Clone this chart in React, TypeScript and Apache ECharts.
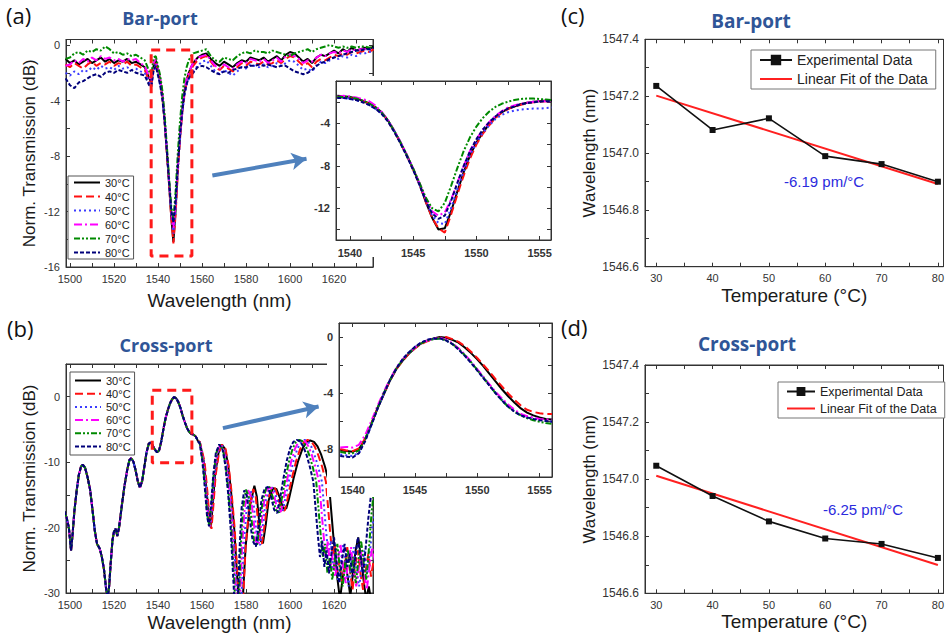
import React, { useEffect, useRef } from 'react';
import * as echarts from 'echarts';

const TEMPS = ['30°C', '40°C', '50°C', '60°C', '70°C', '80°C'];
const COLORS = ['#000000', '#ff1010', '#3c3cff', '#ff00ff', '#008a00', '#00007a'];
const DASHES: any[] = ['solid', [8, 4], [2, 3], [8, 3, 2, 3], [6, 2, 2, 2, 2, 2], [4, 2]];

// ---------- (a) main: Bar-port spectra ----------
const A_X = [
  1498, 1500, 1502, 1504, 1506, 1508, 1510, 1512, 1514, 1516, 1518, 1520, 1522, 1524, 1526, 1528, 1530, 1532, 1534, 1536,
  1537, 1538, 1539, 1540, 1541, 1542, 1543, 1544, 1545, 1546, 1547, 1548, 1549, 1550, 1551, 1552, 1553, 1554, 1555, 1556,
  1558, 1560, 1562, 1564, 1566, 1568, 1570, 1572, 1574, 1576, 1578, 1580, 1582, 1584, 1586, 1588, 1590, 1592, 1594, 1596,
  1598, 1600, 1602, 1604, 1606, 1608, 1610, 1612, 1614, 1616, 1618, 1620, 1622, 1624, 1626, 1628, 1630, 1632, 1634, 1636, 1638,
];
const A_30 = [
  -1.0, -1.3, -1.1, -1.4, -1.2, -1.0, -1.3, -1.1, -0.9, -1.2, -1.0, -1.3, -1.1, -1.2, -1.0, -1.3, -1.2, -1.4, -1.6, -2.4,
  -2.7, -1.5, -1.1, -1.8, -2.5, -3.6, -5.4, -7.6, -9.9, -12.3, -14.2, -11.9, -8.9, -6.5, -4.7, -3.4, -2.5, -2.0, -1.6, -1.3,
  -0.9, -0.7, -0.6, -1.0, -1.3, -1.5, -1.2, -1.4, -1.6, -1.3, -1.1, -1.2, -0.9, -1.0, -1.1, -0.9, -1.2, -1.0, -0.8, -1.1,
  -0.7, -0.5, -0.6, -0.9, -1.2, -1.0, -1.3, -0.9, -0.7, -0.8, -0.6, -0.4, -0.6, -0.3, -0.5, -0.2, -0.4, -0.3, -0.2, -0.3, -0.1,
];
const A_40 = [
  -1.4, -1.6, -1.3, -1.5, -1.7, -1.4, -1.2, -1.5, -1.3, -1.4, -1.2, -1.5, -1.3, -1.4, -1.2, -1.5, -1.4, -1.6, -1.8, -2.6,
  -2.8, -1.7, -1.3, -2.0, -2.7, -3.8, -5.5, -7.7, -10.0, -12.4, -14.3, -12.2, -9.2, -6.8, -4.9, -3.6, -2.7, -2.2, -1.8, -1.5,
  -1.1, -0.9, -0.8, -1.2, -1.6, -1.8, -1.5, -1.7, -1.9, -1.6, -1.3, -1.5, -1.2, -1.3, -1.4, -1.2, -1.4, -1.3, -1.1, -1.3,
  -1.0, -0.8, -0.9, -1.2, -1.5, -1.3, -1.6, -1.2, -1.0, -1.1, -0.9, -0.7, -0.8, -0.6, -0.7, -0.5, -0.6, -0.5, -0.4, -0.5, -0.3,
];
const A_50 = [
  -2.0, -2.2, -1.9, -2.1, -1.8, -1.9, -1.6, -1.8, -1.5, -1.7, -1.6, -1.8, -1.5, -1.7, -1.6, -1.8, -1.7, -1.9, -2.0, -2.7,
  -2.9, -1.8, -1.4, -2.1, -2.8, -3.8, -5.4, -7.5, -9.8, -12.0, -13.6, -11.9, -9.1, -6.8, -5.0, -3.7, -2.9, -2.4, -2.1, -1.9,
  -1.5, -1.2, -1.1, -1.5, -1.9, -2.1, -1.8, -2.0, -2.2, -1.9, -1.6, -1.7, -1.4, -1.5, -1.6, -1.4, -1.6, -1.5, -1.3, -1.5,
  -1.3, -1.1, -1.2, -1.5, -1.8, -1.7, -1.9, -1.5, -1.2, -1.3, -1.1, -0.9, -1.0, -0.8, -0.9, -0.7, -0.8, -0.6, -0.6, -0.5, -0.4,
];
const A_60 = [
  -1.5, -1.4, -1.1, -1.3, -1.0, -1.2, -0.9, -1.1, -0.8, -1.0, -0.9, -1.1, -1.0, -1.2, -1.0, -1.1, -1.0, -1.3, -1.5, -2.3,
  -2.6, -1.3, -1.0, -1.7, -2.4, -3.5, -5.3, -7.5, -9.8, -11.9, -13.2, -11.4, -8.7, -6.4, -4.6, -3.3, -2.5, -2.0, -1.6, -1.3,
  -0.9, -0.8, -0.7, -1.1, -1.5, -1.7, -1.4, -1.6, -1.7, -1.4, -1.2, -1.3, -1.0, -1.1, -1.2, -1.0, -1.3, -1.1, -0.9, -1.2,
  -0.8, -0.7, -0.8, -1.0, -1.3, -1.1, -1.2, -0.9, -0.7, -0.8, -0.6, -0.5, -0.6, -0.4, -0.5, -0.3, -0.4, -0.3, -0.3, -0.3, -0.2,
];
const A_70 = [
  -1.0, -0.9, -0.6, -0.5, -0.7, -0.4, -0.5, -0.3, -0.4, -0.1, -0.3, -0.6, -0.5, -0.7, -0.6, -0.8, -0.7, -0.9, -1.1, -1.9,
  -2.2, -0.9, -0.8, -1.5, -2.2, -3.3, -5.0, -7.2, -9.5, -11.6, -12.6, -10.6, -7.8, -5.5, -3.7, -2.4, -1.6, -1.1, -0.8, -0.6,
  -0.5, -0.4, -0.3, -0.8, -1.1, -1.2, -0.9, -1.0, -1.1, -0.8, -0.6, -0.5, -0.6, -0.4, -0.5, -0.5, -0.6, -0.4, -0.5, -0.6,
  -0.7, -0.8, -0.6, -0.5, -0.4, -0.3, -0.5, -0.3, -0.2, -0.1, 0.0, -0.1, -0.2, -0.1, -0.2, -0.1, -0.2, -0.1, -0.1, -0.2, -0.1,
];
const A_80 = [
  -2.4, -2.9, -3.1, -2.7, -2.6, -2.4, -2.2, -2.1, -2.3, -2.0, -1.9, -2.0, -1.8, -1.9, -2.0, -1.8, -2.0, -2.1, -2.2, -2.9,
  -3.0, -1.8, -1.5, -2.2, -2.9, -3.9, -5.5, -7.6, -9.8, -11.9, -12.8, -11.2, -8.7, -6.5, -4.8, -3.5, -2.8, -2.4, -2.2, -2.0,
  -1.6, -1.5, -1.6, -1.8, -2.0, -2.1, -1.9, -2.0, -1.8, -1.7, -1.6, -1.6, -1.5, -1.5, -1.4, -1.5, -1.4, -1.5, -1.6, -1.5,
  -1.5, -1.7, -1.9, -2.0, -2.1, -2.0, -1.8, -1.5, -1.3, -1.2, -1.0, -0.9, -0.8, -0.7, -0.6, -0.5, -0.4, -0.4, -0.3, -0.3, -0.2,
];

// ---------- insets: shared wavelength grid ----------
const INSET_X = [
  1539, 1539.5, 1540, 1540.5, 1541, 1541.5, 1542, 1542.5, 1543, 1543.5, 1544, 1544.5, 1545, 1545.5, 1546, 1546.5, 1547, 1547.5,
  1548, 1548.5, 1549, 1549.5, 1550, 1550.5, 1551, 1551.5, 1552, 1552.5, 1553, 1553.5, 1554, 1554.5, 1555, 1555.5, 1556,
];
const IA_30 = [-1.4, -1.45, -1.5, -1.65, -1.85, -2.1, -2.45, -2.95, -3.7, -4.7, -5.8, -7.0, -8.3, -9.7, -11.4, -12.9, -14.0, -13.9, -12.3, -10.4, -8.6, -7.0, -5.8, -4.9, -4.1, -3.4, -2.95, -2.6, -2.4, -2.2, -2.05, -1.95, -1.9, -1.85, -1.85];
const IA_40 = [-1.5, -1.55, -1.6, -1.7, -1.9, -2.15, -2.5, -3.0, -3.75, -4.75, -5.85, -7.05, -8.35, -9.75, -11.4, -12.9, -13.9, -14.3, -12.6, -10.7, -8.9, -7.3, -6.0, -5.0, -4.2, -3.5, -3.0, -2.65, -2.4, -2.25, -2.1, -2.0, -1.95, -1.9, -1.9];
const IA_50 = [-1.6, -1.6, -1.65, -1.8, -2.0, -2.25, -2.6, -3.05, -3.75, -4.7, -5.8, -7.0, -8.3, -9.7, -11.3, -12.7, -13.4, -13.5, -12.0, -10.2, -8.5, -7.0, -5.8, -4.9, -4.2, -3.6, -3.2, -2.95, -2.8, -2.7, -2.65, -2.6, -2.6, -2.55, -2.5];
const IA_60 = [-1.5, -1.4, -1.45, -1.55, -1.7, -1.9, -2.3, -2.9, -3.65, -4.65, -5.75, -6.95, -8.25, -9.6, -11.1, -12.3, -12.7, -12.4, -11.2, -9.6, -8.0, -6.6, -5.5, -4.6, -3.9, -3.3, -2.85, -2.5, -2.3, -2.15, -2.05, -1.95, -1.9, -1.9, -1.9];
const IA_70 = [-1.5, -1.5, -1.55, -1.65, -1.85, -2.1, -2.45, -2.95, -3.7, -4.7, -5.8, -7.0, -8.25, -9.6, -11.0, -12.0, -12.3, -11.5, -9.9, -8.2, -6.6, -5.3, -4.3, -3.5, -2.9, -2.45, -2.15, -1.95, -1.8, -1.7, -1.65, -1.65, -1.7, -1.75, -1.8];
const IA_80 = [-1.6, -1.6, -1.7, -1.8, -2.0, -2.25, -2.6, -3.1, -3.8, -4.8, -5.9, -7.1, -8.4, -9.8, -11.3, -12.5, -13.0, -12.7, -11.3, -9.6, -8.0, -6.6, -5.5, -4.6, -3.9, -3.35, -2.9, -2.6, -2.4, -2.2, -2.1, -2.0, -1.95, -1.9, -1.9];

const IB_30 = [-8.1, -8.15, -8.2, -8.0, -7.3, -6.2, -5.1, -4.1, -3.1, -2.3, -1.7, -1.2, -0.8, -0.45, -0.25, -0.1, 0.0, -0.05, -0.2, -0.4, -0.75, -1.15, -1.6, -2.1, -2.65, -3.2, -3.75, -4.25, -4.7, -5.1, -5.4, -5.6, -5.75, -5.85, -5.9];
const IB_40 = [-8.0, -8.1, -8.15, -7.95, -7.25, -6.15, -5.05, -4.05, -3.1, -2.3, -1.7, -1.2, -0.8, -0.5, -0.3, -0.15, -0.05, 0.0, -0.15, -0.35, -0.65, -1.05, -1.5, -2.0, -2.5, -3.05, -3.55, -4.05, -4.5, -4.9, -5.2, -5.35, -5.45, -5.5, -5.5];
const IB_50 = [-8.4, -8.45, -8.5, -8.25, -7.4, -6.3, -5.1, -4.05, -3.05, -2.25, -1.6, -1.1, -0.7, -0.4, -0.2, -0.15, -0.1, -0.25, -0.5, -0.85, -1.3, -1.8, -2.35, -2.9, -3.45, -4.0, -4.5, -4.95, -5.3, -5.55, -5.7, -5.8, -5.9, -6.0, -6.05];
const IB_60 = [-7.9, -7.85, -7.9, -7.7, -7.0, -6.0, -4.9, -3.9, -3.0, -2.2, -1.6, -1.15, -0.75, -0.45, -0.25, -0.1, -0.05, -0.2, -0.45, -0.8, -1.25, -1.75, -2.3, -2.85, -3.4, -3.95, -4.4, -4.85, -5.2, -5.5, -5.65, -5.75, -5.85, -5.9, -5.9];
const IB_70 = [-8.2, -8.3, -8.3, -8.1, -7.3, -6.2, -5.05, -4.0, -3.05, -2.25, -1.65, -1.15, -0.75, -0.45, -0.25, -0.15, -0.1, -0.25, -0.5, -0.85, -1.3, -1.8, -2.35, -2.9, -3.5, -4.05, -4.55, -5.0, -5.35, -5.6, -5.8, -5.95, -6.05, -6.15, -6.2];
const IB_80 = [-8.5, -8.55, -8.6, -8.3, -7.45, -6.3, -5.1, -4.05, -3.05, -2.25, -1.6, -1.1, -0.7, -0.4, -0.2, -0.1, -0.1, -0.25, -0.5, -0.9, -1.35, -1.85, -2.4, -2.95, -3.5, -4.05, -4.55, -5.0, -5.35, -5.6, -5.75, -5.85, -5.95, -6.0, -6.05];

// ---------- (b) main: Cross-port spectra, [wavelength, dB] ----------
const B_HEAD = [
  [1497.5, -17.5], [1498.5, -18.5], [1499.5, -20], [1500.5, -23.5], [1501.2, -21], [1502, -17.5], [1503, -14.5], [1504, -12],
  [1505, -10.7], [1505.8, -10.4], [1506.8, -10.8], [1508, -12.3], [1509.2, -14.3], [1510.3, -17.5], [1511.3, -20.5], [1512.3, -22.5],
  [1513.5, -23.2], [1514.5, -24.5], [1515.5, -26.5], [1516.3, -29], [1517, -31], [1517.8, -29], [1518.5, -25.5], [1519.3, -22],
  [1520, -20.6], [1520.8, -20.2], [1521.5, -21.3], [1522.3, -20], [1523.5, -16.8], [1524.7, -13.8], [1526, -11.2], [1527, -9.7],
  [1527.8, -9.4], [1528.8, -9.9], [1529.8, -11.2], [1530.8, -12.9], [1531.8, -13.9], [1532.8, -12.9], [1533.8, -10.7], [1534.8, -8.5],
  [1535.8, -7.2], [1536.6, -7.0], [1537.5, -7.4], [1538.6, -8.1], [1539.6, -8.5], [1540.5, -8.2], [1541.5, -6.8], [1542.5, -4.9],
  [1543.5, -3.2], [1544.5, -2.0], [1545.5, -1.0], [1546.5, -0.35], [1547.3, -0.05], [1548.2, -0.2], [1549.2, -0.8], [1550.2, -1.7],
  [1551.2, -2.9], [1552.2, -3.9], [1553.2, -4.8], [1554.2, -5.4], [1555.2, -5.7], [1556.2, -5.8], [1557.2, -6.1], [1558.2, -6.8],
];
const B_TAIL_30 = [
  [1559, -6.9], [1560.9, -10], [1562, -14], [1563.1, -18.3], [1564, -20], [1564.9, -16.5], [1565.9, -12], [1567.5, -8.6], [1569, -7.3],
  [1570.5, -8], [1571.9, -10.5], [1573.2, -14.5], [1574.6, -20], [1575.8, -26.5], [1577, -33], [1578.2, -33], [1579.8, -23], [1581.6, -17],
  [1583.8, -13.6], [1584.9, -15.2], [1585.8, -18.5], [1586.6, -22], [1587.7, -22.4], [1589, -19.5], [1590.3, -15.8], [1592.2, -14],
  [1593.8, -14.1], [1595.2, -15.3], [1596.8, -17], [1598.3, -17.1], [1599.6, -15.5], [1601.6, -12.5], [1603.7, -9.8], [1605.7, -7.9],
  [1607.5, -6.9], [1609.2, -6.7], [1610.9, -6.9], [1612.5, -7.6], [1614.2, -8.9], [1615.9, -10.7], [1617.6, -13], [1618.6, -17],
  [1619.6, -21], [1620.6, -24.5], [1621.6, -28], [1622.7, -31], [1623.8, -28], [1625, -25], [1626.2, -27.5], [1627.4, -30.5],
  [1628.6, -27], [1629.8, -23.5], [1631, -21.5], [1632.2, -24.5], [1633.4, -28], [1634.6, -31], [1635.8, -29], [1637, -31.5], [1638.4, -30],
];
const B_TAIL_40 = [
  [1559, -6.9], [1561.2, -10], [1562.3, -14], [1563.4, -18.3], [1564.3, -20.2], [1565.2, -16.5], [1566.2, -12], [1567.7, -8.6], [1569.2, -7.3],
  [1570.7, -8], [1572.1, -10.5], [1573.4, -14.5], [1574.8, -20], [1576, -26.5], [1577.2, -33], [1578.4, -33], [1579.8, -23], [1581.4, -17],
  [1583.3, -14.1], [1584.4, -15.2], [1585.3, -18.5], [1586.1, -22], [1587.2, -22.5], [1588.5, -19.5], [1589.8, -15.8], [1591.6, -14],
  [1593.2, -14], [1594.6, -15.3], [1596.1, -17.3], [1597.6, -17.4], [1598.9, -15.5], [1600.8, -12.5], [1602.8, -9.8], [1604.7, -7.9],
  [1606.4, -6.9], [1608, -6.6], [1609.6, -6.8], [1611.2, -7.6], [1612.8, -8.9], [1614.6, -10.7], [1616.3, -13], [1617.3, -17],
  [1618.3, -21], [1619.3, -24.5], [1620.3, -22.5], [1621.4, -27], [1622.5, -25], [1623.6, -28.5], [1624.8, -26], [1626, -23],
  [1627.2, -26.5], [1628.4, -29.5], [1629.6, -26], [1630.8, -23.5], [1632, -27], [1633.2, -29.5], [1634.4, -26.5], [1635.6, -24], [1636.8, -27.5], [1638, -25],
];
const B_TAIL_50 = [
  [1559, -7.0], [1560.8, -10], [1561.9, -14], [1562.9, -18.3], [1563.8, -19.8], [1564.7, -16.5], [1565.7, -12], [1567.1, -8.6], [1568.6, -7.3],
  [1570.1, -8], [1571.5, -10.5], [1572.8, -14.5], [1574.1, -20], [1575.3, -26.5], [1576.4, -33], [1577.6, -33], [1578.9, -23], [1580.3, -17],
  [1582, -14.3], [1583.1, -15.2], [1584.1, -18.5], [1585.1, -22], [1586.4, -22.7], [1587.7, -19.5], [1589, -15.8], [1590.7, -14],
  [1592.3, -13.9], [1593.7, -15.3], [1595.1, -17.3], [1596.6, -17.6], [1597.9, -15.5], [1599.7, -12.5], [1601.6, -9.8], [1603.4, -7.9],
  [1605.1, -6.9], [1606.6, -6.6], [1608.1, -6.8], [1609.6, -7.6], [1611.1, -8.9], [1612.8, -10.7], [1614.5, -13], [1615.5, -17],
  [1616.5, -21], [1617.5, -24.5], [1618.5, -22], [1619.6, -26.5], [1620.7, -24], [1621.8, -28], [1623, -25.5], [1624.2, -22.5],
  [1625.4, -26], [1626.6, -29], [1627.8, -25.5], [1629, -23], [1630.2, -26.5], [1631.4, -29], [1632.6, -26], [1633.8, -23.5], [1635, -27], [1636.2, -24], [1637.4, -20], [1638.6, -17.5],
];
const B_TAIL_60 = [
  [1559, -7.0], [1560.6, -10], [1561.7, -14], [1562.7, -18.3], [1563.6, -19.8], [1564.5, -16.5], [1565.5, -12], [1566.8, -8.6], [1568.3, -7.3],
  [1569.8, -8], [1571.1, -10.5], [1572.4, -14.5], [1573.7, -20], [1574.8, -26.5], [1575.9, -33], [1577.1, -33], [1578.2, -23], [1579.4, -17],
  [1581, -14.3], [1582.2, -15.2], [1583.3, -18.5], [1584.4, -22], [1585.7, -22.7], [1587, -19.5], [1588.3, -15.8], [1590, -14],
  [1591.5, -13.9], [1592.9, -15.3], [1594.3, -17.3], [1595.8, -17.6], [1597.1, -15.5], [1598.8, -12.5], [1600.6, -9.8], [1602.3, -7.9],
  [1603.9, -6.9], [1605.4, -6.6], [1606.9, -6.8], [1608.4, -7.6], [1609.9, -8.9], [1611.5, -10.7], [1613.2, -13], [1614.2, -17],
  [1615.2, -21], [1616.2, -24.5], [1617.2, -22], [1618.3, -26.5], [1619.4, -24], [1620.5, -27.5], [1621.7, -25], [1622.9, -22.5],
  [1624.1, -26], [1625.3, -28.5], [1626.5, -25], [1627.7, -23], [1628.9, -26.5], [1630.1, -29], [1631.3, -26], [1632.5, -23.5], [1633.7, -27], [1634.9, -29.5], [1636.1, -26], [1637.3, -23], [1638.5, -25],
];
const B_TAIL_70 = [
  [1559, -7.1], [1560.4, -10], [1561.5, -14], [1562.5, -18.3], [1563.4, -19.8], [1564.3, -16.5], [1565.3, -12], [1566.5, -8.6], [1568, -7.3],
  [1569.5, -8], [1570.8, -10.5], [1572, -14.5], [1573.3, -20], [1574.4, -26.5], [1575.4, -33], [1576.6, -33], [1577.6, -23], [1578.6, -17],
  [1580, -14.2], [1581.2, -15.2], [1582.4, -18.5], [1583.6, -22], [1585, -22.8], [1586.3, -19.5], [1587.6, -15.8], [1589.2, -14],
  [1590.7, -13.8], [1592.1, -15.3], [1593.5, -17.3], [1595, -17.7], [1596.3, -15.5], [1597.9, -12.5], [1599.6, -9.8], [1601.2, -7.9],
  [1602.7, -6.9], [1604.2, -6.6], [1605.7, -6.8], [1607.2, -7.6], [1608.7, -8.9], [1610.3, -10.7], [1611.9, -13], [1612.9, -17],
  [1613.9, -21], [1614.9, -24.5], [1615.9, -22.5], [1617, -27], [1618.1, -24.5], [1619.2, -28], [1620.3, -25], [1621.5, -22.5],
  [1622.7, -26.5], [1623.9, -29], [1625.1, -25.5], [1626.3, -23.5], [1627.5, -27], [1628.7, -24.5], [1629.9, -28.5], [1631.1, -25], [1632.3, -22], [1633.5, -25.5], [1634.7, -28], [1635.9, -23], [1637.1, -17.5], [1638.3, -14],
];
const B_TAIL_80 = [
  [1559, -7.2], [1560.2, -10], [1561.3, -14], [1562.3, -18.3], [1563.2, -19.8], [1564.1, -16.5], [1565.1, -12], [1566.3, -8.6], [1567.8, -7.3],
  [1569.3, -8], [1570.6, -10.5], [1571.8, -14.5], [1573, -20], [1574, -26.5], [1575, -33], [1576.2, -33], [1577.1, -23], [1578, -17],
  [1579.2, -14.3], [1580.4, -15.2], [1581.6, -18.5], [1583, -22], [1584.5, -22.9], [1585.8, -19.5], [1587, -15.8], [1588.5, -14],
  [1590, -13.8], [1591.4, -15.3], [1592.8, -17.3], [1594.2, -17.8], [1595.5, -15.5], [1597, -12.5], [1598.5, -9.8], [1600, -7.9],
  [1601.5, -6.9], [1603, -6.6], [1604.5, -6.8], [1606, -7.6], [1607.5, -8.9], [1609, -10.7], [1610.6, -13], [1611.6, -17],
  [1612.6, -21], [1613.6, -24.5], [1614.6, -22], [1615.6, -26], [1616.6, -23.5], [1617.7, -27], [1618.8, -24], [1620, -21.5],
  [1621.2, -25.5], [1622.4, -28.5], [1623.6, -25], [1624.8, -22.5], [1626, -26], [1627.2, -24], [1628.4, -27.5], [1629.6, -25], [1630.8, -21.5], [1632, -24.5], [1633.2, -27], [1634.4, -23], [1635.6, -18.5], [1636.8, -15], [1638, -13],
];

// zoom boxes and arrows (data coordinates)
const BOX_A = [[1536.9, -0.36], [1555.4, -0.36], [1555.4, -15.2], [1536.9, -15.2], [1536.9, -0.36]];
const BOX_B = [[1537.4, 1.0], [1555.4, 1.0], [1555.4, -10.1], [1537.4, -10.1], [1537.4, 1.0]];
const ARROW_A = [[1564.7, -9.4], [1607.5, -8.2]];
const ARROW_B = [[1569.5, -4.8], [1613.0, -1.5]];

// ---------- (c), (d) ----------
const TEMP = [30, 40, 50, 60, 70, 80];
const C_EXP = [1547.236, 1547.081, 1547.122, 1546.989, 1546.961, 1546.899];
const C_FIT = [[30, 1547.202], [80, 1546.891]];
const D_EXP = [1547.047, 1546.941, 1546.852, 1546.792, 1546.773, 1546.724];
const D_FIT = [[30, 1547.012], [80, 1546.699]];

const A_SERIES = [A_30, A_40, A_50, A_60, A_70, A_80];
const IA_SERIES = [IA_30, IA_40, IA_50, IA_60, IA_70, IA_80];
const IB_SERIES = [IB_30, IB_40, IB_50, IB_60, IB_70, IB_80];
const B_TAILS = [B_TAIL_30, B_TAIL_40, B_TAIL_50, B_TAIL_60, B_TAIL_70, B_TAIL_80];

const SANS = 'Liberation Sans, Arial, sans-serif';
const AX = '#333';

function pairs(xs: number[], ys: number[]) {
  return xs.map((x, i) => [x, ys[i]]);
}

function axis(o: any) {
  const {
    grid, min, max, labels, ticks, name, nameGap, position, fontSize = 11, bold = false, z = 0, nameSize = 18, fmt, margin = 6,
    mirror = false,
  } = o;
  return {
    type: 'value', gridIndex: grid, min, max, position, z,
    name: mirror ? undefined : name, nameLocation: 'middle', nameGap,
    nameTextStyle: { fontSize: nameSize, fontFamily: SANS, color: '#1a1a1a' },
    axisLine: { show: true, onZero: false, lineStyle: { color: AX, width: 1 } },
    axisTick: { show: true, inside: true, length: 4, customValues: ticks, lineStyle: { color: AX } },
    axisLabel: {
      show: !mirror,
      customValues: labels, fontSize, fontFamily: SANS, color: '#333', margin,
      fontWeight: bold ? 'bold' : 'normal', formatter: fmt || ((v: number) => String(v)),
    },
    splitLine: { show: false },
  };
}

const range = (a: number, b: number, s: number) => {
  const out: number[] = [];
  for (let v = a; v <= b + 1e-9; v += s) out.push(Math.round(v * 1000) / 1000);
  return out;
};

function buildOption() {
  const grids = [
    { left: 66, top: 39.5, width: 307, height: 227.5 },
    { left: 336, top: 81, width: 215, height: 159, z: 11 },
    { left: 66, top: 364, width: 307, height: 229 },
    { left: 339, top: 323, width: 213, height: 154, z: 11 },
    { left: 645, top: 39.3, width: 303, height: 227.4 },
    { left: 645, top: 365, width: 303, height: 228.3 },
  ].map((g) => ({ show: true, borderColor: AX, borderWidth: 1, backgroundColor: 'transparent', ...g }));

  const fmt1 = (v: number) => v.toFixed(1);
  const X = [
    { grid: 0, min: 1498.2, max: 1637.7, labels: range(1500, 1620, 20), ticks: range(1500, 1630, 10), name: 'Wavelength (nm)', nameGap: 24, nameSize: 19 },
    { grid: 1, min: 1538.9, max: 1555.9, labels: [1540, 1545, 1550, 1555], ticks: range(1540, 1555, 2.5), bold: true, z: 12, margin: 7 },
    { grid: 2, min: 1498.2, max: 1637.7, labels: range(1500, 1620, 20), ticks: range(1500, 1630, 10), name: 'Wavelength (nm)', nameGap: 20, nameSize: 19 },
    { grid: 3, min: 1538.9, max: 1556, labels: [1540, 1545, 1550, 1555], ticks: range(1540, 1555, 2.5), bold: true, z: 12, margin: 7 },
    { grid: 4, min: 28, max: 81, labels: range(30, 80, 10), ticks: range(30, 80, 5), name: 'Temperature (°C)', nameGap: 19, nameSize: 19 },
    { grid: 5, min: 28, max: 81, labels: range(30, 80, 10), ticks: range(30, 80, 5), name: 'Temperature (°C)', nameGap: 19, nameSize: 19 },
  ];
  const Y = [
    { grid: 0, min: -16, max: 0.4, labels: [0, -4, -8, -12, -16], ticks: range(-16, 0, 2), name: 'Norm. Transmission (dB)', nameGap: 28, nameSize: 17 },
    { grid: 1, min: -15, max: 0, labels: [-4, -8, -12], ticks: range(-14, -2, 2), bold: true, z: 12 },
    { grid: 2, min: -30, max: 5, labels: [0, -10, -20, -30], ticks: range(-30, 0, 5), name: 'Norm. Transmission (dB)', nameGap: 28, nameSize: 17 },
    { grid: 3, min: -10, max: 1, labels: [0, -4, -8], ticks: range(-10, 0, 2), bold: true, z: 12 },
    { grid: 4, min: 1546.6, max: 1547.4, labels: range(1546.6, 1547.4, 0.2), ticks: range(1546.6, 1547.4, 0.1), name: 'Wavelength (nm)', nameGap: 46, nameSize: 17, fontSize: 12, fmt: fmt1 },
    { grid: 5, min: 1546.6, max: 1547.4, labels: range(1546.6, 1547.4, 0.2), ticks: range(1546.6, 1547.4, 0.1), name: 'Wavelength (nm)', nameGap: 46, nameSize: 17, fontSize: 12, fmt: fmt1 },
  ];
  const xAxis = [
    ...X.map((o) => axis(o)),
    ...X.map((o) => axis({ ...o, mirror: true, position: 'top' })),
  ];
  const yAxis = [
    ...Y.map((o) => axis(o)),
    ...Y.slice(0, 4).map((o) => axis({ ...o, mirror: true, position: 'right' })),
  ];

  const series: any[] = [];
  const specLine = (i: number, data: any[], ax: number, z = 2) => ({
    type: 'line', name: TEMPS[i], xAxisIndex: ax, yAxisIndex: ax, data, z,
    symbol: 'none', showSymbol: false, clip: true, silent: true,
    lineStyle: { color: COLORS[i], width: 2, type: DASHES[i] },
    itemStyle: { color: COLORS[i] },
  });
  for (let i = 0; i < 6; i++) series.push(specLine(i, pairs(A_X, A_SERIES[i]), 0));
  for (let i = 0; i < 6; i++) series.push(specLine(i, [...B_HEAD, ...B_TAILS[i]], 2));
  for (let i = 0; i < 6; i++) series.push(specLine(i, pairs(INSET_X, IA_SERIES[i]), 1, 12));
  for (let i = 0; i < 6; i++) series.push(specLine(i, pairs(INSET_X, IB_SERIES[i]), 3, 12));

  const boxSeries = (data: any[], ax: number) => ({
    type: 'line', xAxisIndex: ax, yAxisIndex: ax, data, symbol: 'none', silent: true, z: 3,
    lineStyle: { color: '#ff1a1a', width: 3, type: [9, 6] },
  });
  series.push(boxSeries(BOX_A, 0));
  series.push(boxSeries(BOX_B, 2));

  const arrowSeries = (pts: number[][], ax: number) => ({
    type: 'line', xAxisIndex: ax, yAxisIndex: ax, data: [], symbol: 'none', silent: true, z: 4,
    markLine: {
      silent: true, symbol: ['none', 'arrow'], symbolSize: [13, 15], label: { show: false },
      lineStyle: { color: '#4f81bd', width: 4, type: 'solid' },
      data: [[{ coord: pts[0] }, { coord: pts[1] }]],
    },
  });
  series.push(arrowSeries(ARROW_A, 0));
  series.push(arrowSeries(ARROW_B, 2));

  const expSeries = (vals: number[], ax: number) => ({
    type: 'line', name: 'Experimental Data', xAxisIndex: ax, yAxisIndex: ax, data: pairs(TEMP, vals),
    symbol: 'rect', symbolSize: 6, showSymbol: true, silent: true, z: 4,
    lineStyle: { color: '#111', width: 1.6 }, itemStyle: { color: '#111' },
  });
  const fitSeries = (data: number[][], ax: number) => ({
    type: 'line', name: 'Linear Fit of the Data', xAxisIndex: ax, yAxisIndex: ax, data,
    symbol: 'none', silent: true, z: 3,
    lineStyle: { color: '#ff2020', width: 2 }, itemStyle: { color: '#ff2020' },
  });
  series.push(expSeries(C_EXP, 4), fitSeries(C_FIT, 4), expSeries(D_EXP, 5), fitSeries(D_FIT, 5));

  const tempLegend = (left: number, top: number, gap: number, pad: number[]) => ({
    left, top, orient: 'vertical', data: TEMPS, selectedMode: false,
    itemWidth: 26, itemHeight: 11, itemGap: gap, padding: pad,
    borderColor: '#555', borderWidth: 1, backgroundColor: '#fff',
    itemStyle: { opacity: 0 },
    textStyle: { fontSize: 11, fontFamily: SANS, color: '#222' },
  });
  const fitLegend = (left: number, top: number, fs: number, iw: number, ih: number, gap: number) => ({
    left, top, orient: 'vertical', selectedMode: false,
    data: ['Experimental Data', { name: 'Linear Fit of the Data', itemStyle: { opacity: 0 } }],
    itemWidth: iw, itemHeight: ih, itemGap: gap, padding: [3, 8, 3, 8],
    borderColor: '#777', borderWidth: 1, backgroundColor: '#fff',
    textStyle: { fontSize: fs, fontFamily: SANS, color: '#222' },
  });

  const txt = (text: string, x: number, y: number, size: number, opts: any = {}) => ({
    type: 'text', x, y, z: 20, silent: true,
    style: {
      text, fontSize: size, fontFamily: opts.family || 'Open Sans, sans-serif', fontWeight: opts.weight || 'normal',
      fill: opts.color || '#111', textAlign: opts.align || 'left', textVerticalAlign: 'top',
    },
  });
  const TITLE = '#2f5597';

  return {
    animation: false,
    backgroundColor: '#fff',
    grid: grids,
    xAxis,
    yAxis,
    series,
    legend: [
      tempLegend(68, 176, 3, [1, 4, 1, 5]),
      tempLegend(70, 372, 2.2, [3, 4, 3, 4]),
      fitLegend(751, 50, 14, 32, 13, 5),
      fitLegend(778, 382, 12.5, 28, 11, 4),
    ],
    graphic: {
      elements: [
        { type: 'rect', z: 10, silent: true, shape: { x: 310, y: 76, width: 255, height: 181 }, style: { fill: '#fff' } },
        { type: 'rect', z: 10, silent: true, shape: { x: 327, y: 313, width: 238, height: 184 }, style: { fill: '#fff' } },
        txt('(a)', 6, 4, 22),
        txt('Bar-port', 160, 9, 18, { weight: 'bold', color: TITLE, align: 'center' }),
        txt('(b)', 7, 317, 22),
        txt('Cross-port', 166, 336, 18, { weight: 'bold', color: TITLE, align: 'center' }),
        txt('(c)', 561, 4, 22),
        txt('Bar-port', 751, 11, 19, { weight: 'bold', color: TITLE, align: 'center' }),
        txt('(d)', 561, 316, 22),
        txt('Cross-port', 747, 334, 19, { weight: 'bold', color: TITLE, align: 'center' }),
        txt('-6.19 pm/°C', 784, 174, 15, { family: SANS, color: '#2b2bdd' }),
        txt('-6.25 pm/°C', 823, 502, 15, { family: SANS, color: '#2b2bdd' }),
      ],
    },
  };
}

export default function App() {
  const ref = useRef<HTMLDivElement>(null);
  useEffect(() => {
    if (!ref.current) return;
    const chart = echarts.init(ref.current, undefined, { renderer: 'svg' });
    chart.setOption(buildOption() as any);
    return () => chart.dispose();
  }, []);
  return (
    <div
      ref={ref}
      style={{ position: 'fixed', left: 0, top: 0, width: 947, height: 636, background: '#fff' }}
    />
  );
}
